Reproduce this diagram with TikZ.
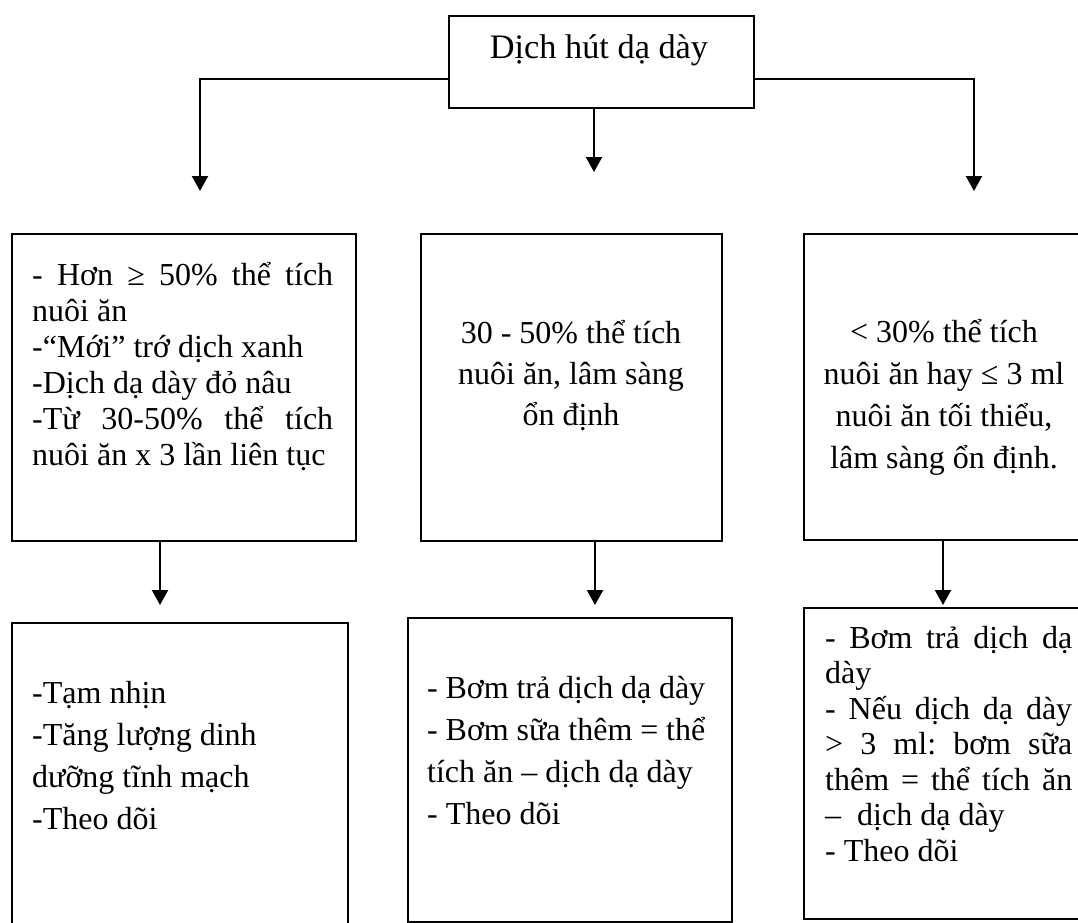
\documentclass[tikz,border=0pt]{standalone}
\usepackage{fontspec}
\setmainfont{Liberation Serif}
\usetikzlibrary{arrows.meta}
\tikzset{
box/.style={draw, line width=2pt, inner sep=0pt, anchor=north west},
txt/.style={inner sep=0pt, align=flush left, anchor=base west},
ctxt/.style={inner sep=0pt, align=flush center, anchor=base},
arr/.style={line width=2.2pt, -{Triangle[length=15pt,width=16pt]}}
}
\newcommand{\fullline}[2]{\makebox[#1][s]{#2}}
\frenchspacing
\begin{document}
\begin{tikzpicture}[x=1pt,y=-1pt]
\useasboundingbox (0,0) rectangle (1078,922);
\clip (0,0) rectangle (1078,922);
\node[box, minimum width=305pt, minimum height=92pt] (top) at (448,15) {};
\node[inner sep=0pt, anchor=base, font=\fontsize{34.3}{40}\selectfont] (ttl) at (599,58) {Dịch hút dạ dày};
\node[box, minimum width=344pt, minimum height=307pt] (b1) at (11,233) {};
\node[box, minimum width=301pt, minimum height=307pt] (b2) at (420,233) {};
\node[box, minimum width=300pt, minimum height=306pt] (b3) at (803,233) {};
\node[box, minimum width=336pt, minimum height=313pt] (b4) at (11,622) {};
\node[box, minimum width=324pt, minimum height=304pt] (b5) at (407,617) {};
\node[box, minimum width=300pt, minimum height=311pt] (b6) at (803,607) {};
\node[txt, text width=301pt, font=\fontsize{32}{36}\selectfont] (b1t) at (32,285)
{\fullline{301pt}{- Hơn ≥ 50\% thể tích}\\ nuôi ăn\\ -“Mới” trớ dịch xanh\\ -Dịch dạ dày đỏ nâu\\
\fullline{301pt}{-Từ 30-50\% thể tích}\\ nuôi ăn x 3 lần liên tục};
\node[ctxt, text width=280pt, font=\fontsize{32}{41}\selectfont] (b2t) at (571,343)
{30 - 50\% thể tích\\ nuôi ăn, lâm sàng\\ ổn định};
\node[ctxt, text width=260pt, font=\fontsize{32}{42}\selectfont] (b3t) at (944,342)
{< 30\% thể tích\\ nuôi ăn hay ≤ 3 ml\\ nuôi ăn tối thiểu,\\ lâm sàng ổn định.};
\node[txt, text width=300pt, font=\fontsize{32}{42.3}\selectfont] (b4t) at (32,703)
{-Tạm nhịn\\ -Tăng lượng dinh\\ dưỡng tĩnh mạch\\ -Theo dõi};
\node[txt, text width=290pt, font=\fontsize{32}{42.3}\selectfont] (b5t) at (427,698)
{\fullline{278pt}{- Bơm trả dịch dạ dày}\\ \fullline{278pt}{- Bơm sữa thêm = thể}\\ tích ăn – dịch dạ dày\\ - Theo dõi};
\node[txt, text width=247pt, font=\fontsize{32}{35.5}\selectfont] (b6t) at (825,648)
{\fullline{247pt}{- Bơm trả dịch dạ}\\ dày\\ \fullline{247pt}{- Nếu dịch dạ dày}\\ \fullline{247pt}{> 3 ml: bơm sữa}\\
\fullline{247pt}{thêm = thể tích ăn}\\ –\ \ dịch dạ dày\\ - Theo dõi};
\coordinate (a1) at (200,191);
\coordinate (a2) at (594,172);
\coordinate (a3) at (974,191);
\coordinate (a4) at (160,605);
\coordinate (a5) at (595,605);
\coordinate (a6) at (943,605);
\draw[arr] ([yshift=30pt]top.south west) -| (a1);
\draw[arr] (top.south -| a2) -- (a2);
\draw[arr] ([yshift=30pt]top.south east) -| (a3);
\draw[arr] (b1.south -| a4) -- (a4);
\draw[arr] (b2.south -| a5) -- (a5);
\draw[arr] (b3.south -| a6) -- (a6);
\end{tikzpicture}
\end{document}
